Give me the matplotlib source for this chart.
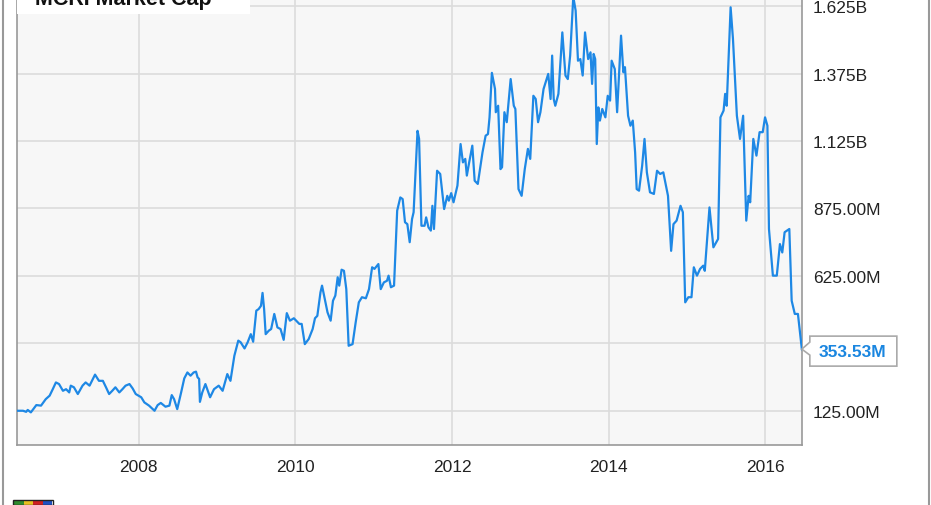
import matplotlib
matplotlib.use("Agg")
import matplotlib.pyplot as plt
from matplotlib.patches import Polygon, Rectangle
from matplotlib.transforms import IdentityTransform

plt.rcParams['font.family'] = ['Liberation Sans', 'DejaVu Sans']

title = "MCRI Market Cap"
last_label = "353.53M"

years = [2006.45, 2006.52, 2006.56, 2006.58, 2006.62, 2006.69, 2006.75, 2006.81, 2006.86, 2006.90,
         2006.94, 2006.98, 2007.03, 2007.07, 2007.11, 2007.13, 2007.17, 2007.22, 2007.28, 2007.32,
         2007.37, 2007.44, 2007.49, 2007.54, 2007.58, 2007.62, 2007.66, 2007.70, 2007.75, 2007.79,
         2007.83, 2007.88, 2007.92, 2007.96, 2008.03, 2008.07, 2008.13, 2008.20, 2008.24, 2008.28,
         2008.34, 2008.39, 2008.42, 2008.45, 2008.49, 2008.54, 2008.58, 2008.62, 2008.66, 2008.70,
         2008.73, 2008.75, 2008.77, 2008.78, 2008.81, 2008.85, 2008.91, 2008.96, 2009.02, 2009.07,
         2009.13, 2009.17, 2009.22, 2009.27, 2009.30, 2009.35, 2009.39, 2009.43, 2009.46, 2009.50,
         2009.53, 2009.56, 2009.58, 2009.60, 2009.62, 2009.66, 2009.69, 2009.73, 2009.77, 2009.81,
         2009.85, 2009.89, 2009.93, 2009.98, 2010.05, 2010.08, 2010.12, 2010.17, 2010.22, 2010.25,
         2010.28, 2010.32, 2010.34, 2010.38, 2010.41, 2010.45, 2010.48, 2010.51, 2010.54, 2010.56,
         2010.59, 2010.62, 2010.65, 2010.68, 2010.73, 2010.77, 2010.81, 2010.85, 2010.90, 2010.94,
         2010.98, 2011.01, 2011.06, 2011.09, 2011.13, 2011.17, 2011.19, 2011.22, 2011.26, 2011.30,
         2011.34, 2011.37, 2011.40, 2011.43, 2011.46, 2011.49, 2011.51, 2011.56, 2011.58, 2011.61,
         2011.65, 2011.67, 2011.70, 2011.73, 2011.75, 2011.77, 2011.81, 2011.85, 2011.90, 2011.94,
         2011.96, 2011.99, 2012.02, 2012.07, 2012.11, 2012.14, 2012.17, 2012.19, 2012.22, 2012.26,
         2012.29, 2012.33, 2012.39, 2012.43, 2012.46, 2012.48, 2012.51, 2012.55, 2012.56, 2012.59,
         2012.62, 2012.64, 2012.67, 2012.70, 2012.75, 2012.79, 2012.81, 2012.85, 2012.89, 2012.93,
         2012.97, 2013.00, 2013.04, 2013.07, 2013.10, 2013.13, 2013.17, 2013.23, 2013.26, 2013.28,
         2013.30, 2013.32, 2013.36, 2013.41, 2013.45, 2013.48, 2013.51, 2013.55, 2013.58, 2013.61,
         2013.64, 2013.67, 2013.70, 2013.74, 2013.77, 2013.79, 2013.81, 2013.83, 2013.85, 2013.87,
         2013.89, 2013.92, 2013.96, 2013.99, 2014.02, 2014.04, 2014.08, 2014.11, 2014.14, 2014.16,
         2014.19, 2014.21, 2014.25, 2014.28, 2014.31, 2014.34, 2014.36, 2014.39, 2014.43, 2014.46,
         2014.49, 2014.53, 2014.58, 2014.62, 2014.66, 2014.70, 2014.76, 2014.80, 2014.83, 2014.87,
         2014.92, 2014.95, 2014.98, 2015.02, 2015.06, 2015.09, 2015.13, 2015.17, 2015.21, 2015.23,
         2015.29, 2015.34, 2015.40, 2015.43, 2015.47, 2015.49, 2015.51, 2015.56, 2015.59, 2015.64,
         2015.68, 2015.72, 2015.76, 2015.79, 2015.81, 2015.85, 2015.89, 2015.93, 2015.97, 2016.00,
         2016.03, 2016.05, 2016.10, 2016.15, 2016.19, 2016.22, 2016.25, 2016.31, 2016.34, 2016.38,
         2016.42, 2016.47]

market_cap_m = [125, 125, 121, 128, 119, 146, 144, 168, 181, 205,
                230, 224, 199, 205, 193, 218, 212, 187, 218, 230,
                218, 259, 236, 236, 212, 187, 199, 212, 193, 205,
                218, 224, 208, 187, 175, 156, 144, 125, 146, 154,
                140, 144, 183, 168, 131, 193, 245, 267, 255, 267,
                270, 249, 243, 158, 193, 224, 175, 205, 218, 199,
                261, 236, 329, 385, 379, 356, 379, 409, 381, 496,
                502, 514, 562, 502, 409, 422, 428, 484, 434, 428,
                388, 487, 459, 468, 447, 447, 372, 391, 428, 468,
                477, 564, 589, 533, 490, 459, 533, 552, 620, 589,
                648, 644, 576, 366, 372, 453, 527, 546, 542, 576,
                657, 651, 669, 576, 601, 607, 626, 583, 589, 867,
                916, 910, 824, 817, 750, 836, 861, 1163, 1133, 811,
                811, 842, 805, 793, 885, 799, 1015, 1003, 873, 922,
                904, 932, 898, 960, 1114, 1046, 1059, 997, 1046, 1108,
                978, 966, 1083, 1145, 1151, 1213, 1378, 1318, 1232, 1256,
                1021, 1028, 1232, 1195, 1355, 1256, 1244, 947, 922, 1021,
                1096, 1059, 1293, 1281, 1195, 1232, 1318, 1374, 1281, 1442,
                1281, 1256, 1300, 1528, 1368, 1355, 1442, 1660, 1609, 1423,
                1429, 1368, 1528, 1429, 1454, 1337, 1448, 1429, 1114, 1250,
                1201, 1244, 1213, 1293, 1275, 1423, 1392, 1232, 1405, 1516,
                1380, 1399, 1219, 1182, 1201, 1083, 947, 941, 1034, 1133,
                1009, 935, 929, 1015, 1003, 1009, 922, 718, 817, 830,
                885, 861, 527, 546, 546, 657, 626, 651, 663, 644,
                879, 731, 762, 1213, 1238, 1300, 1256, 1621, 1504, 1219,
                1133, 1219, 830, 922, 898, 1133, 1071, 1158, 1158, 1213,
                1182, 799, 626, 626, 743, 712, 787, 799, 533, 484,
                484, 353.53]

ytick_vals = [125, 375, 625, 875, 1125, 1375, 1625]
ytick_labels = ["125.00M", "", "625.00M", "875.00M", "1.125B", "1.375B", "1.625B"]
xtick_vals = [2008, 2010, 2012, 2014, 2016]
xtick_labels = ["2008", "2010", "2012", "2014", "2016"]

W, H = 931, 506
fig = plt.figure(figsize=(W / 100, H / 100), dpi=100)
fig.patch.set_facecolor('white')

# axes box in pixels: left 17, right 802, bottom 446, top -20 (extends above image)
ax = fig.add_axes([17 / W, (H - 446) / H, (802 - 17) / W, 466 / H])
ax.set_facecolor('#f7f7f7')
ax.plot(years, market_cap_m, color='#1e88e5', lw=1.6, solid_joinstyle='round', zorder=3)
ax.set_xlim(2006.443, 2016.472)
ax.set_ylim(-2, 1726)

ax.set_yticks(ytick_vals)
ax.set_yticklabels(ytick_labels)
ax.set_xticks(xtick_vals)
ax.set_xticklabels(xtick_labels)
ax.yaxis.tick_right()
ax.tick_params(axis='y', length=0, pad=8, labelsize=12.5, labelcolor='#222222')
ax.tick_params(axis='x', length=0, pad=10, labelsize=12.5, labelcolor='#222222')
ax.grid(True, color='#dcdcdc', lw=1.2)
ax.set_axisbelow(True)
for side in ['left', 'right', 'bottom']:
    ax.spines[side].set_color('#999999')
    ax.spines[side].set_linewidth(1.2)
ax.spines['top'].set_visible(False)

fig.canvas.draw()
# last-value callout
tx, ty = ax.transData.transform((years[-1], market_cap_m[-1]))
pts = [(tx, ty), (tx + 8, ty + 7), (tx + 8, ty + 13), (tx + 95, ty + 13),
       (tx + 95, ty - 17), (tx + 8, ty - 17), (tx + 8, ty - 6)]
poly = Polygon(pts, closed=True, transform=IdentityTransform(), facecolor='white',
               edgecolor='#aaaaaa', lw=1.2, zorder=10)
fig.patches.append(poly)
fig.text((tx + 51) / W, (ty - 2) / H, last_label, ha='center', va='center',
         fontsize=12.5, fontweight='bold', color='#1a86e0', zorder=11)

# title box (partly cut off at top)
fig.patches.append(Rectangle((17 / W, (H - 15) / H), (250 - 17) / W, 30 / H,
                             transform=fig.transFigure, facecolor='white',
                             edgecolor='none', zorder=5))
fig.text(35 / W, (H - 5) / H, title, ha='left', va='baseline',
         fontsize=15.5, fontweight='bold', color='#111111', zorder=6)

# outer frame lines
fig.add_artist(plt.Line2D([2.5 / W, 2.5 / W], [0, 1], color='#999999', lw=1.5,
                          transform=fig.transFigure))
fig.add_artist(plt.Line2D([929 / W, 929 / W], [0, 1], color='#999999', lw=1.5,
                          transform=fig.transFigure))

# small logo at bottom left
logo_cols = ['#2e8b2e', '#e8c020', '#d02020', '#2050c0']
for i, c in enumerate(logo_cols):
    fig.patches.append(Rectangle(((14 + i * 9.5) / W, 0), 9.5 / W, 4 / H,
                                 transform=fig.transFigure, facecolor=c,
                                 edgecolor='none', zorder=5))
fig.patches.append(Rectangle((13 / W, 0), 40 / W, 5 / H, transform=fig.transFigure,
                             facecolor='none', edgecolor='#222222', lw=1, zorder=6))

fig.savefig('out.png', dpi=100)
